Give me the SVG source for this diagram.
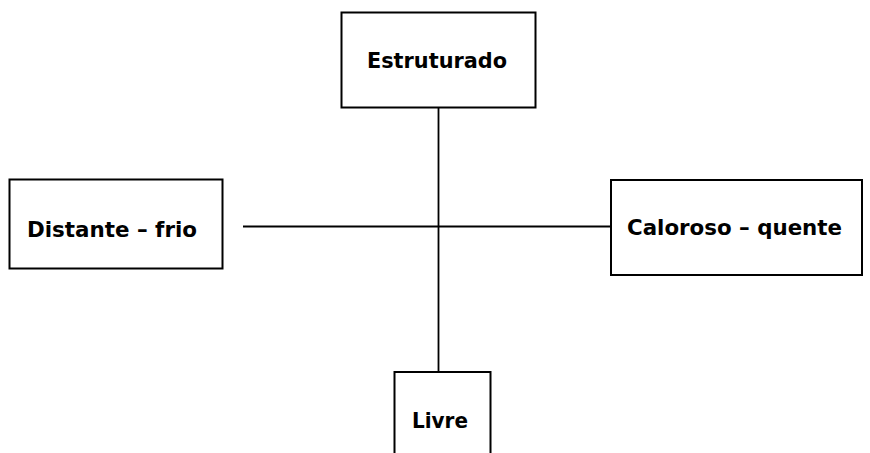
<svg xmlns="http://www.w3.org/2000/svg" width="870" height="453" viewBox="0 0 870 453">
<style>
.box{fill:#fff;stroke:#000;stroke-width:2}
.lbl{font-family:"DejaVu Sans",Verdana,sans-serif;font-weight:bold;font-size:21px;fill:#000}
.ln{stroke:#000;stroke-width:1.8;fill:none}
</style>
<rect width="870" height="453" fill="#fff"/>
<g id="connectors">
<line class="ln" x1="438.5" y1="108" x2="438.5" y2="372"/>
<line class="ln" x1="243" y1="226.5" x2="611" y2="226.5"/>
</g>
<g id="estruturado">
<rect class="box" x="341.5" y="12.5" width="194" height="95"/>
<text class="lbl" x="367" y="68" textLength="140" lengthAdjust="spacingAndGlyphs">Estruturado</text>
</g>
<g id="distante">
<rect class="box" x="9.5" y="179.5" width="213" height="89"/>
<text class="lbl" x="27" y="237" textLength="170" lengthAdjust="spacingAndGlyphs">Distante – frio</text>
</g>
<g id="caloroso">
<rect class="box" x="611" y="180" width="251" height="95"/>
<text class="lbl" x="627" y="235" textLength="215" lengthAdjust="spacingAndGlyphs">Caloroso – quente</text>
</g>
<g id="livre">
<rect class="box" x="394.5" y="372" width="96" height="90"/>
<text class="lbl" x="412" y="428" textLength="56" lengthAdjust="spacingAndGlyphs">Livre</text>
</g>
</svg>
